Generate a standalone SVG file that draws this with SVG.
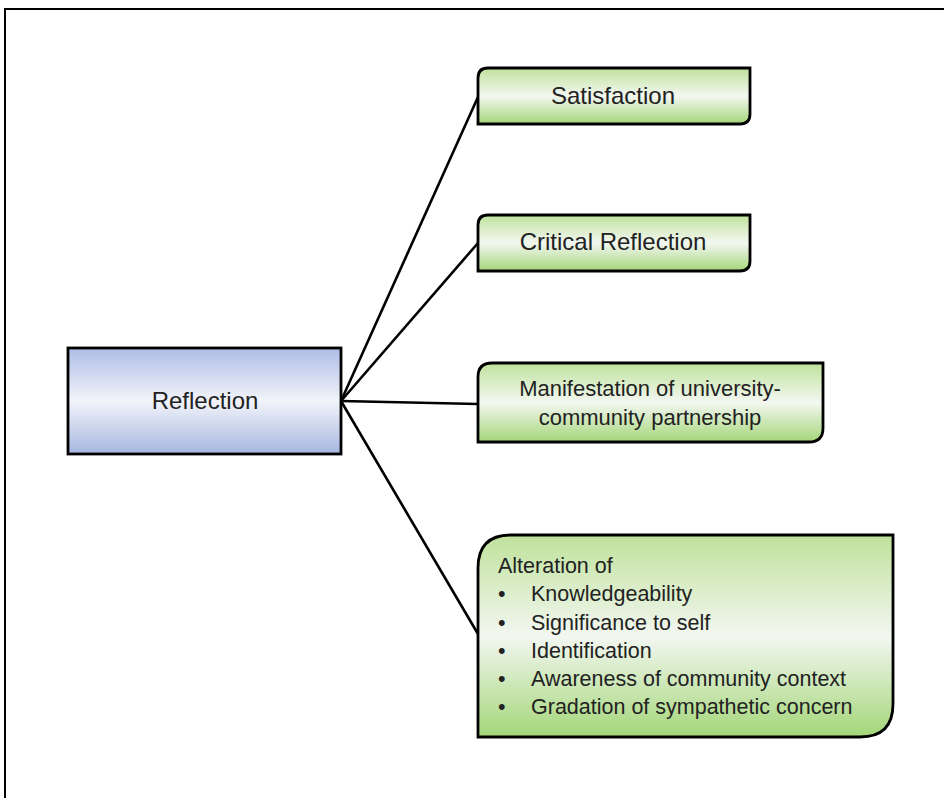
<svg xmlns="http://www.w3.org/2000/svg" width="944" height="798" viewBox="0 0 944 798">
  <defs>
    <linearGradient id="green" x1="0" y1="0" x2="0" y2="1">
      <stop offset="0" stop-color="#bfe29b"/>
      <stop offset="0.5" stop-color="#f3f7f1"/>
      <stop offset="1" stop-color="#a4d679"/>
    </linearGradient>
    <linearGradient id="blue" x1="0" y1="0" x2="0" y2="1">
      <stop offset="0" stop-color="#aebde6"/>
      <stop offset="0.5" stop-color="#f2f4fa"/>
      <stop offset="1" stop-color="#a6b6e0"/>
    </linearGradient>
  </defs>
  <style>
    .frame { fill: none; stroke: #000; stroke-width: 2; }
    .box-green { fill: url(#green); stroke: #000; stroke-width: 2.8; }
    .box-blue { fill: url(#blue); stroke: #000; stroke-width: 2.8; }
    .link { fill: none; stroke: #000; stroke-width: 2.6; }
    text { font-family: "Liberation Sans", Arial, sans-serif; font-size: 21.5px; fill: #222; }
    .title { font-size: 24px; }
    .mid { font-size: 22px; }
    .c { text-anchor: middle; }
  </style>

  <rect width="944" height="798" fill="#fff"/>
  <path class="frame" d="M5 798 V9 H944"/>

  <g id="connectors">
    <line class="link" x1="341" y1="401" x2="478" y2="97"/>
    <line class="link" x1="341" y1="401" x2="478" y2="243"/>
    <line class="link" x1="341" y1="401" x2="478" y2="404"/>
    <line class="link" x1="341" y1="401" x2="478" y2="634"/>
  </g>

  <g id="reflection">
    <rect class="box-blue" x="68" y="348" width="273" height="106"/>
    <text class="c title" x="205" y="409">Reflection</text>
  </g>

  <g id="satisfaction">
    <path class="box-green" d="M488 68 H750 V114 Q750 124 740 124 H478 V78 Q478 68 488 68 Z"/>
    <text class="c title" x="613" y="104">Satisfaction</text>
  </g>

  <g id="critical-reflection">
    <path class="box-green" d="M488 215 H750 V261 Q750 271 740 271 H478 V225 Q478 215 488 215 Z"/>
    <text class="c title" x="613" y="250">Critical Reflection</text>
  </g>

  <g id="partnership">
    <path class="box-green" d="M492 363 H823 V428 Q823 442 809 442 H478 V377 Q478 363 492 363 Z"/>
    <text class="c mid" x="650" y="396">Manifestation of university-</text>
    <text class="c mid" x="650" y="425">community partnership</text>
  </g>

  <g id="alteration">
    <path class="box-green" d="M511 535 H893 V704 Q893 737 860 737 H478 V568 Q478 535 511 535 Z"/>
    <text x="498" y="573">Alteration of</text>
    <text x="498" y="601">•</text>
    <text x="531" y="601">Knowledgeability</text>
    <text x="498" y="630">•</text>
    <text x="531" y="630">Significance to self</text>
    <text x="498" y="658">•</text>
    <text x="531" y="658">Identification</text>
    <text x="498" y="686">•</text>
    <text x="531" y="686">Awareness of community context</text>
    <text x="498" y="714">•</text>
    <text x="531" y="714">Gradation of sympathetic concern</text>
  </g>
</svg>
